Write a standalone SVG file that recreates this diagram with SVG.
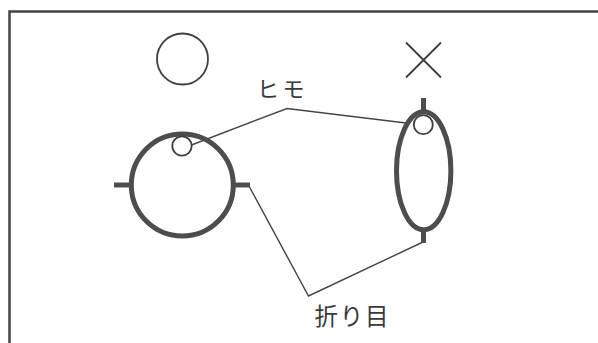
<svg xmlns="http://www.w3.org/2000/svg" width="598" height="343" viewBox="0 0 598 343">
<style>
.o{fill:none;stroke:#3f3f3f;stroke-width:1.8}
.t{fill:none;stroke:#4d4d4d;stroke-width:5}
.l{fill:none;stroke:#444;stroke-width:1.4}
.x{fill:#3a3a3a;font-family:"Noto Sans CJK JP","Liberation Sans",sans-serif}
</style>
<rect width="598" height="343" fill="#fff"/>
<path id="frame" d="M9.500 343V11.500H598" fill="none" stroke="#444" stroke-width="2.500"/>
<g id="connectors">
<path class="l" d="M191.500 145L287 108.500L406 123"/>
<path class="l" d="M249.500 187L308.500 296L423 242"/>
</g>
<g id="maru"><circle class="o" cx="182.500" cy="59" r="25.500"/></g>
<g id="batsu"><path class="o" d="M406 42.500L441 77.500M441 42.500L406 77.500"/></g>
<g id="circle-view">
<circle class="t" cx="182.300" cy="185" r="51"/>
<path class="t" d="M114 185H130M234 185H250"/>
<circle class="o" cx="182" cy="146" r="9.700"/>
</g>
<g id="ellipse-view">
<ellipse class="t" cx="423.700" cy="170.800" rx="27.200" ry="59"/>
<path class="t" d="M423.500 98V111M423.500 230V243"/>
<circle class="o" cx="423.300" cy="124.700" r="9.500"/>
</g>
<text class="x" x="257" y="97" font-size="22" letter-spacing="3.600">ヒモ</text>
<text class="x" x="314.500" y="325" font-size="23.500" letter-spacing="1.800">折り目</text>
</svg>
